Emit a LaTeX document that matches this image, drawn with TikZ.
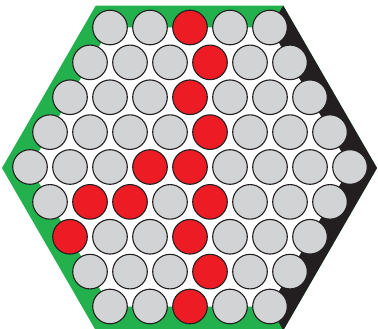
\documentclass[tikz,border=0pt]{standalone}
\definecolor{hexgreen}{HTML}{22B14C}
\definecolor{hexblack}{HTML}{231F20}
\definecolor{gy}{HTML}{D1D3D4}
\definecolor{rd}{HTML}{ED1C24}
\begin{document}
\begin{tikzpicture}[x=1pt,y=-1pt,
  ball/.style={circle,draw=hexblack,line width=1.1pt,minimum size=34.6pt,inner sep=0pt}]
\useasboundingbox (0,0) rectangle (378,329);
% outer hexagon
\fill[hexgreen] (95.75,5.6) -- (283.25,5.6) -- (377,168) -- (283.25,330.4) -- (95.75,330.4) -- (2,168) -- cycle;
\fill[hexblack] (283.25,5.6) -- (377,168) -- (283.25,330.4) -- (270,306.5) -- (350,167) -- (270,27.5) -- cycle;
% inner white hexagon through outer centres
\fill[white] (110,27.5) -- (270,27.5) -- (350,167) -- (270,306.5) -- (110,306.5) -- (30,167) -- cycle;
% balls
\foreach \r/\n/\cols in {
  0/5/{gy,gy,rd,gy,gy},
  1/6/{gy,gy,gy,rd,gy,gy},
  2/7/{gy,gy,gy,rd,gy,gy,gy},
  3/8/{gy,gy,gy,gy,rd,gy,gy,gy},
  4/9/{gy,gy,gy,rd,rd,gy,gy,gy,gy},
  5/8/{gy,rd,rd,gy,rd,gy,gy,gy},
  6/7/{rd,gy,gy,rd,gy,gy,gy},
  7/6/{gy,gy,gy,rd,gy,gy},
  8/5/{gy,gy,rd,gy,gy}}{
  \foreach \c [count=\k from 0] in \cols {
    \node[ball,fill=\c] (b\r-\k) at ({190-20*(\n-1)+40*\k},{27.5+34.875*\r}) {};
  }
}
\end{tikzpicture}
\end{document}
